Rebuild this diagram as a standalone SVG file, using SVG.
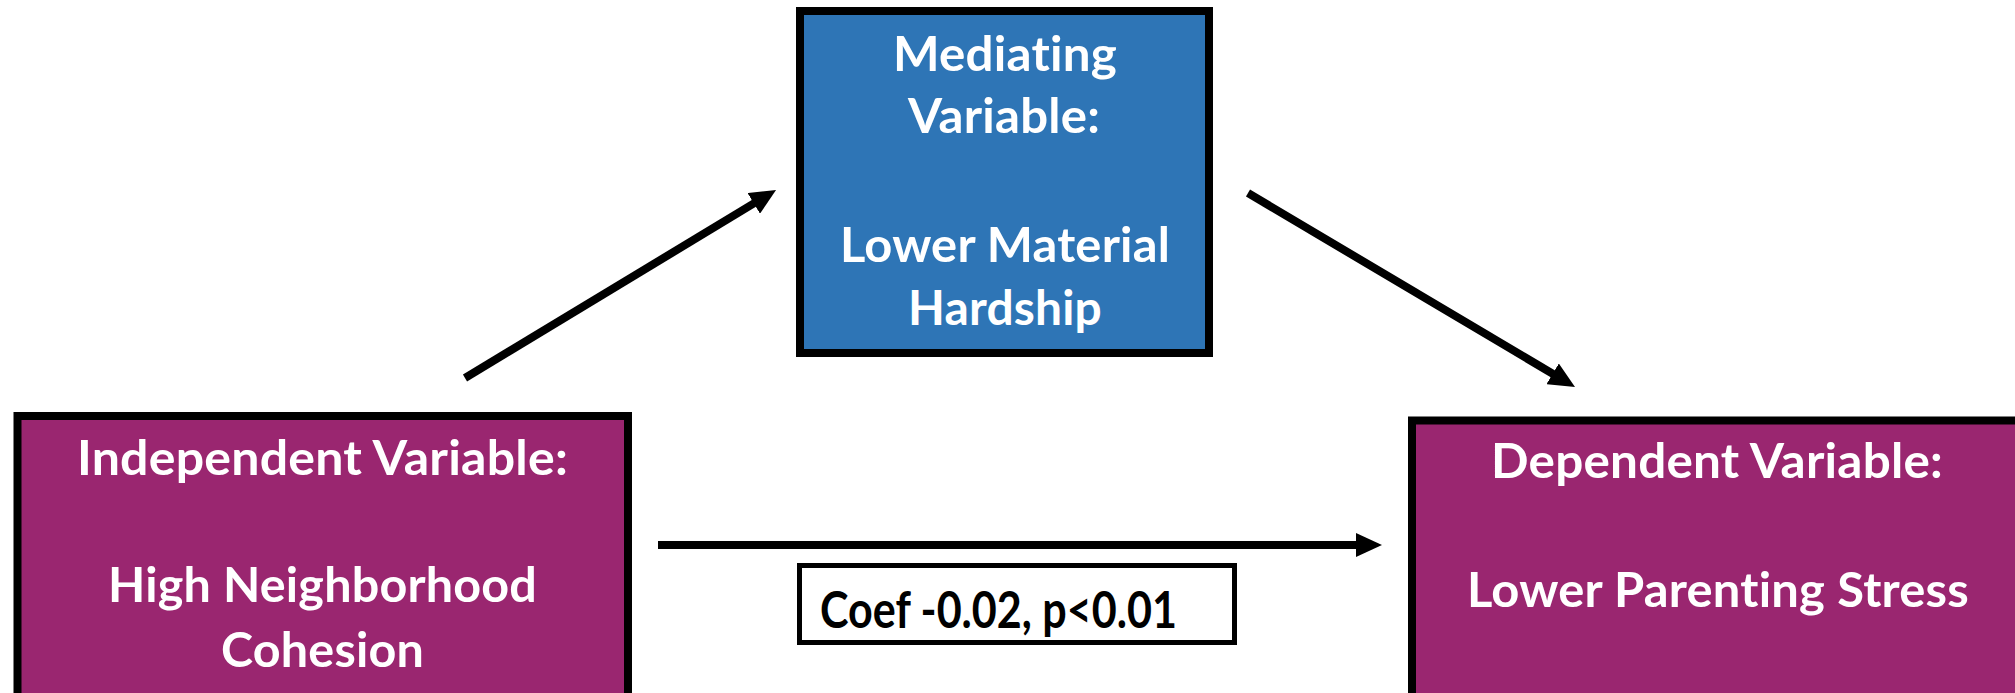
<svg xmlns="http://www.w3.org/2000/svg" width="2015" height="693" viewBox="0 0 2015 693">
  <style>
    .box { stroke: #000; stroke-width: 8; }
    .purple { fill: #9A2670; }
    .blue { fill: #2E75B6; }
    .t { font-family: Lato, "Open Sans", "Liberation Sans", sans-serif; font-weight: bold; font-size: 48px; fill: #fff; text-anchor: middle; font-variant-ligatures: none; font-feature-settings: "liga" 0, "clig" 0, "dlig" 0; letter-spacing: 0.2px; }
    .lab { font-family: Lato, "Open Sans", "Liberation Sans", sans-serif; font-weight: bold; font-size: 52px; fill: #000; font-variant-ligatures: none; font-feature-settings: "liga" 0, "clig" 0; }
    .conn { stroke: #000; stroke-width: 8; fill: none; marker-end: url(#head); }
  </style>
  <defs>
    <marker id="head" markerUnits="userSpaceOnUse" markerWidth="26" markerHeight="24" refX="2" refY="12" orient="auto" viewBox="0 0 26 24">
      <path d="M0,0 L26,12 L0,24 z" fill="#000"/>
    </marker>
  </defs>
  <rect width="2015" height="693" fill="#fff"/>

  <g id="connectors">
    <line class="conn" x1="465" y1="378" x2="755.5" y2="202.4"/>
    <line class="conn" x1="1248" y1="193" x2="1554.4" y2="374.8"/>
    <line class="conn" x1="658" y1="545" x2="1358" y2="545"/>
  </g>

  <g id="node-mediator">
    <rect class="box blue" x="800" y="11" width="409" height="342"/>
    <text class="t" x="1005" y="71" textLength="224" lengthAdjust="spacingAndGlyphs">Mediating</text>
    <text class="t" x="1004" y="133" textLength="192" lengthAdjust="spacingAndGlyphs">Variable:</text>
    <text class="t" x="1005" y="262" textLength="330" lengthAdjust="spacingAndGlyphs">Lower Material</text>
    <text class="t" x="1005" y="325" textLength="194" lengthAdjust="spacingAndGlyphs">Hardship</text>
  </g>

  <g id="node-independent">
    <rect class="box purple" x="17.5" y="416" width="610.5" height="300"/>
    <text class="t" x="322.5" y="475" textLength="491" lengthAdjust="spacingAndGlyphs">Independent Variable:</text>
    <text class="t" x="322.5" y="602" textLength="429" lengthAdjust="spacingAndGlyphs">High Neighborhood</text>
    <text class="t" x="322.5" y="667" textLength="203" lengthAdjust="spacingAndGlyphs">Cohesion</text>
  </g>

  <g id="node-dependent">
    <rect class="box purple" x="1412" y="420.5" width="700" height="300"/>
    <text class="t" x="1717" y="478" textLength="452" lengthAdjust="spacingAndGlyphs">Dependent Variable:</text>
    <text class="t" x="1718" y="607" textLength="502" lengthAdjust="spacingAndGlyphs">Lower Parenting Stress</text>
  </g>

  <g id="label-coef">
    <rect x="799.5" y="565.5" width="435" height="77" fill="#fff" stroke="#000" stroke-width="5"/>
    <text class="lab" x="820" y="628" textLength="357" lengthAdjust="spacingAndGlyphs">Coef -0.02, p&lt;0.01</text>
  </g>
</svg>
